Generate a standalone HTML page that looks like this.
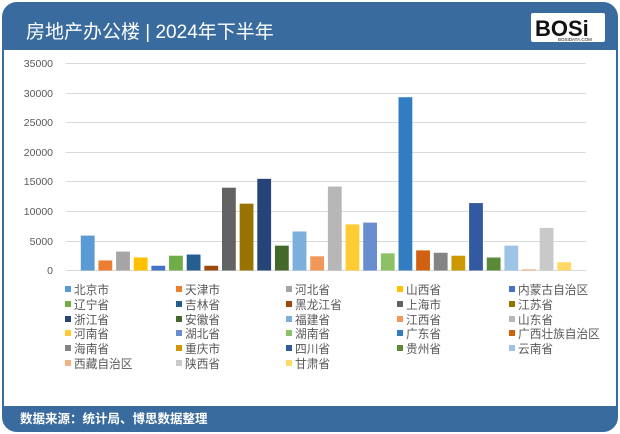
<!DOCTYPE html>
<html><head><meta charset="utf-8"><style>
body{margin:0;background:#fff;}
svg{display:block;font-family:"Liberation Sans","Noto Sans CJK SC",sans-serif;}
</style></head><body>
<svg width="620" height="434" viewBox="0 0 620 434" xmlns="http://www.w3.org/2000/svg">
<rect x="3" y="3" width="614" height="428" rx="14" fill="#fff" stroke="#3a6b9e" stroke-width="2"/>
<path d="M3 50 V17 A14 14 0 0 1 17 3 H603 A14 14 0 0 1 617 17 V50 Z" fill="#3a6b9e"/>
<path d="M3 406 H617 V417 A14 14 0 0 1 603 431 H17 A14 14 0 0 1 3 417 Z" fill="#3a6b9e"/>
<text x="26" y="38" font-size="19" fill="#fff">房地产办公楼 | 2024年下半年</text>
<rect x="531" y="13" width="74" height="29" rx="2" fill="#fff"/>
<text x="535" y="36" font-size="22" font-weight="bold" fill="#111" font-family="Liberation Sans,sans-serif">BOSi</text>
<text x="558" y="41" font-size="4.5" fill="#111">BOSIDATA.COM</text>
<text x="20" y="423" font-size="12.5" font-weight="bold" fill="#fff">数据来源：统计局、博思数据整理</text>
<g stroke="#d9d9d9" stroke-width="1">
<line x1="66" x2="586" y1="63.5" y2="63.5"/><line x1="66" x2="586" y1="93.5" y2="93.5"/>
<line x1="66" x2="586" y1="122.5" y2="122.5"/><line x1="66" x2="586" y1="152.5" y2="152.5"/>
<line x1="66" x2="586" y1="181.5" y2="181.5"/><line x1="66" x2="586" y1="211.5" y2="211.5"/>
<line x1="66" x2="586" y1="241.5" y2="241.5"/><line x1="66" x2="586" y1="270.5" y2="270.5"/>
</g>
<g font-size="10.5" fill="#595959" text-anchor="end">
<text x="53" y="67">35000</text><text x="53" y="97">30000</text><text x="53" y="126">25000</text>
<text x="53" y="156">20000</text><text x="53" y="185">15000</text><text x="53" y="215">10000</text>
<text x="53" y="245">5000</text><text x="53" y="274">0</text>
</g>
<g id="bars"></g>
<g id="leg" font-size="11.7" fill="#595959"></g>
<script>
var d=[["北京市",5900,"#5b9bd5"],["天津市",1700,"#ed7d31"],["河北省",3200,"#a5a5a5"],["山西省",2200,"#ffc000"],["内蒙古自治区",800,"#4472c4"],["辽宁省",2500,"#70ad47"],["吉林省",2700,"#255e91"],["黑龙江省",800,"#9e480e"],["上海市",14000,"#636363"],["江苏省",11300,"#997300"],["浙江省",15500,"#264478"],["安徽省",4200,"#43682b"],["福建省",6600,"#7cafdd"],["江西省",2400,"#f1975a"],["山东省",14200,"#b7b7b7"],["河南省",7800,"#ffcd33"],["湖北省",8100,"#698ed0"],["湖南省",2900,"#8cc168"],["广东省",29300,"#327dc2"],["广西壮族自治区",3400,"#d26012"],["海南省",3000,"#848484"],["重庆市",2500,"#cc9a00"],["四川省",11400,"#335aa1"],["贵州省",2200,"#5a8a39"],["云南省",4200,"#9dc3e6"],["西藏自治区",200,"#f4b183"],["陕西省",7200,"#c9c9c9"],["甘肃省",1400,"#ffd966"]];
var ns="http://www.w3.org/2000/svg",b=document.getElementById("bars"),l=document.getElementById("leg");
var cols=[65,176,286,397,509],rows=[290,305,320,334,349,364];
d.forEach(function(e,i){
var h=e[1]/35000*207,x=80.8+i*17.65;
var r=document.createElementNS(ns,"rect");r.setAttribute("x",x);r.setAttribute("y",270.5-h);r.setAttribute("width",13.8);r.setAttribute("height",h);r.setAttribute("fill",e[2]);b.appendChild(r);
var cx=cols[i%5],cy=rows[Math.floor(i/5)];
var s=document.createElementNS(ns,"rect");s.setAttribute("x",cx);s.setAttribute("y",cy-4);s.setAttribute("width",6);s.setAttribute("height",6);s.setAttribute("fill",e[2]);l.appendChild(s);
var t=document.createElementNS(ns,"text");t.setAttribute("x",cx+9);t.setAttribute("y",cy+4);t.textContent=e[0];l.appendChild(t);
});
</script>
</svg>
</body></html>
